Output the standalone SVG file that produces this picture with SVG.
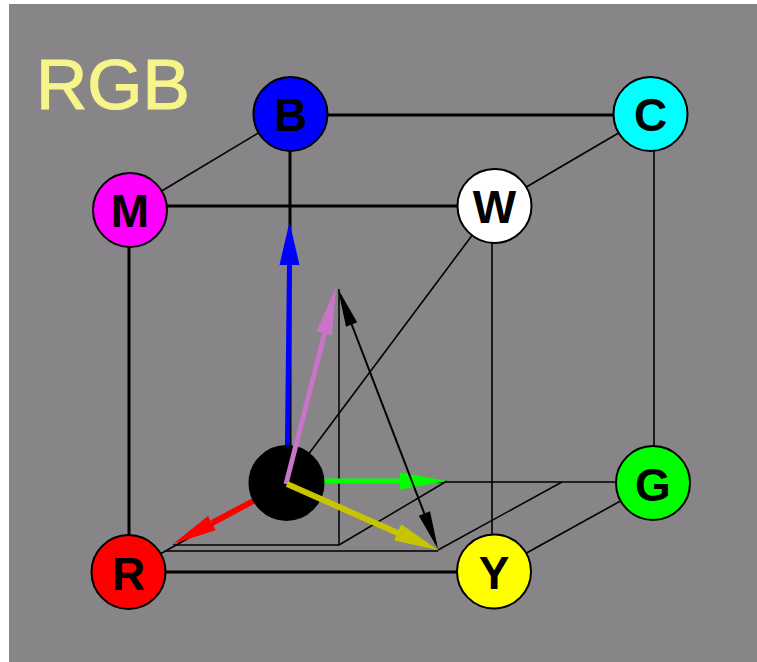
<svg xmlns="http://www.w3.org/2000/svg" width="757" height="662" viewBox="0 0 757 662">
  <style>
    .edge { stroke: #000; stroke-width: 1.6; fill: none; }
    .front { stroke: #000; stroke-width: 3; fill: none; }
    .aux { stroke: #000; stroke-width: 1.5; fill: none; }
    .node circle { stroke: #000; stroke-width: 2; }
    .node text { font-family: "Liberation Sans", Arial, sans-serif; font-weight: bold; font-size: 46px; fill: #000; text-anchor: middle; }
    .title { font-family: "Liberation Sans", Arial, sans-serif; font-size: 71px; fill: #f6f48a; stroke: #f6f48a; stroke-width: 1.2; }
  </style>

  <!-- backdrop -->
  <rect x="0" y="0" width="757" height="662" fill="#ffffff"/>
  <rect x="9" y="4" width="748" height="658" fill="#878587"/>

  <text class="title" x="36" y="109">RGB</text>

  <!-- cube edges and diagonal -->
  <g id="connectors">
    <line class="front" x1="290" y1="115" x2="651" y2="115"/>
    <line class="front" x1="130" y1="206" x2="494" y2="206"/>
    <line class="front" x1="129" y1="210" x2="129" y2="572"/>
    <line class="front" x1="290" y1="114" x2="290" y2="483"/>
    <line class="edge" x1="290" y1="114" x2="130" y2="210"/>
    <line class="edge" x1="651" y1="114" x2="494" y2="206"/>
    <line class="edge" x1="492" y1="206" x2="492" y2="571"/>
    <line class="edge" x1="654" y1="114" x2="654" y2="483"/>
    <line class="edge" x1="653" y1="483" x2="494" y2="571"/>
    <line class="front" x1="128" y1="572" x2="494" y2="572" stroke-width="2.2"/>
    <line class="edge" x1="287" y1="482" x2="653" y2="482"/>
    <line class="edge" x1="287" y1="483" x2="128" y2="572"/>
    <line class="edge" x1="494" y1="206" x2="287" y2="483"/>
    <!-- component construction lines -->
    <line class="aux" x1="173" y1="545" x2="339" y2="545"/>
    <line class="aux" x1="339" y1="545" x2="339" y2="289"/>
    <line class="aux" x1="339" y1="545" x2="447" y2="481"/>
    <line class="aux" x1="166" y1="551" x2="438" y2="551"/>
    <line class="aux" x1="438" y1="550" x2="562" y2="482"/>
  </g>

  <!-- axis vectors drawn beneath the origin disc -->
  <g id="axis-vectors">
    <line x1="287" y1="483" x2="212" y2="523" stroke="#ff0000" stroke-width="6"/>
    <polygon points="173,544 215.6,530.3 208,516.1" fill="#ff0000"/>
    <line x1="287" y1="481" x2="402" y2="481" stroke="#00ff00" stroke-width="5"/>
    <polygon points="447,481 400,472.5 400,489.5" fill="#00ff00"/>
    <line x1="287" y1="483" x2="289.5" y2="262" stroke="#0000ff" stroke-width="5"/>
    <polygon points="289.5,222 299.5,265 279.5,265" fill="#0000ff"/>
  </g>

  <g id="K" class="node">
    <circle cx="286.5" cy="483" r="37" fill="#000"/>
  </g>

  <!-- colour vector, its projection and the difference -->
  <g id="vectors">
    <line x1="286" y1="484" x2="328" y2="320" stroke="#c874c8" stroke-width="5"/>
    <polygon points="336,287 331.9,335.5 316.4,331.5" fill="#c874c8"/>
    <line x1="287" y1="484" x2="400" y2="534" stroke="#c8c400" stroke-width="6"/>
    <polygon points="438,550 394.1,540.6 401.3,524.2" fill="#c8c400"/>
    <line x1="340" y1="294" x2="436" y2="544" stroke="#000" stroke-width="2"/>
    <polygon points="338,289 346,326.7 357.2,322.3" fill="#000"/>
    <polygon points="438,549 418.8,515.7 430,511.3" fill="#000"/>
  </g>

  <g id="B" class="node">
    <circle cx="290.5" cy="114" r="37" fill="#0000ff"/>
    <text x="290.5" y="131">B</text>
  </g>
  <g id="C" class="node">
    <circle cx="650.5" cy="114" r="37" fill="#00ffff"/>
    <text x="650.5" y="131">C</text>
  </g>
  <g id="M" class="node">
    <circle cx="130" cy="210" r="37" fill="#ff00ff"/>
    <text x="130" y="227">M</text>
  </g>
  <g id="W" class="node">
    <circle cx="494.5" cy="206" r="37" fill="#ffffff"/>
    <text x="494.5" y="223">W</text>
  </g>
  <g id="G" class="node">
    <circle cx="653" cy="483" r="37" fill="#00ff00"/>
    <text x="653" y="501">G</text>
  </g>
  <g id="R" class="node">
    <circle cx="128.5" cy="572" r="37" fill="#ff0000"/>
    <text x="128.5" y="590">R</text>
  </g>
  <g id="Y" class="node">
    <circle cx="494" cy="571.5" r="37" fill="#ffff00"/>
    <text x="494" y="589">Y</text>
  </g>
</svg>
